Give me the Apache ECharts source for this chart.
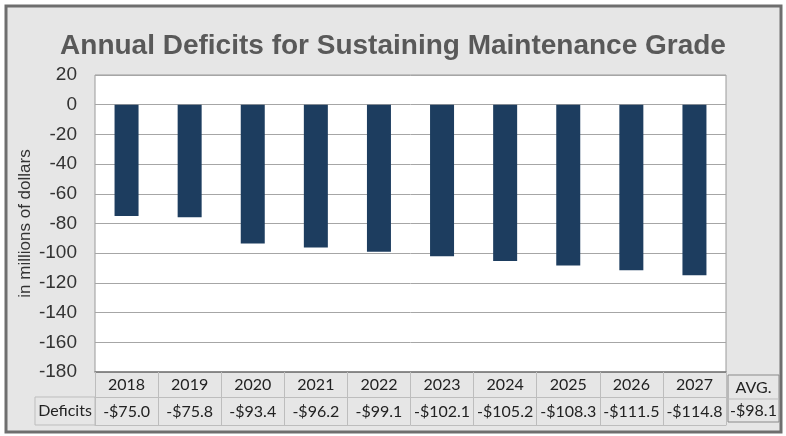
<!DOCTYPE html>
<html>
<head>
<meta charset="utf-8">
<script src="https://cdn.jsdelivr.net/npm/echarts@6/dist/echarts.min.js"></script>
<style>
html,body{margin:0;padding:0;background:#ffffff;}
#chart{width:786px;height:436px;}
</style>
</head>
<body>
<div id="chart"></div>
<script>
const titleText = 'Annual Deficits for Sustaining Maintenance Grade';
const years = ['2018','2019','2020','2021','2022','2023','2024','2025','2026','2027'];
const deficits = [-75.0,-75.8,-93.4,-96.2,-99.1,-102.1,-105.2,-108.3,-111.5,-114.8];
const avgLabel = 'AVG.';
const avgValue = -98.1;
const rowLabel = 'Deficits';
const yAxisTitle = 'in millions of dollars';

function money(v){ return (v < 0 ? '-$' : '$') + Math.abs(v).toFixed(1); }

const tableFont = 'Lato, "Open Sans", sans-serif';
const arial = '"Liberation Sans", Arial, sans-serif';
const chart = echarts.init(document.getElementById('chart'), null, {renderer:'canvas'});
chart.setOption({
  backgroundColor: '#ffffff',
  animation: false,
  title: {
    text: titleText, left: 'center', top: 27,
    textStyle: {fontFamily: arial, fontSize: 28, fontWeight: 'bold', color: '#595959'}
  },
  grid: {left: 95, right: 60, top: 75, bottom: 64, show: true, backgroundColor: '#ffffff', borderColor: '#9a9a9a', borderWidth: 1},
  xAxis: [
    {type: 'category', data: years, position: 'bottom',
     axisLine: {show: true, onZero: false, lineStyle: {color: '#7a7a7a', width: 1.5}},
     axisTick: {show: true, length: 53, lineStyle: {color: '#bdbdbd'}},
     axisLabel: {interval: 0, margin: 5, fontFamily: tableFont, fontSize: 16, color: '#222', lineHeight: 16}},
    {type: 'category', data: years, position: 'bottom', offset: 25,
     axisLine: {show: true, onZero: false, lineStyle: {color: '#bdbdbd'}},
     axisTick: {show: false},
     axisLabel: {interval: 0, margin: 7, fontFamily: tableFont, fontSize: 16, color: '#222', lineHeight: 16,
       formatter: function(v, i){ return money(deficits[i]); }}},
    {type: 'category', data: years, position: 'bottom', offset: 53,
     axisLine: {show: true, onZero: false, lineStyle: {color: '#bdbdbd'}},
     axisTick: {show: false}, axisLabel: {show: false}}
  ],
  yAxis: {
    type: 'value', min: -180, max: 20, interval: 20,
    name: yAxisTitle, nameLocation: 'middle', nameRotate: 90, nameGap: 61, nameMoveOverlap: false,
    nameTextStyle: {fontFamily: arial, fontSize: 17, color: '#333'},
    axisLine: {show: false}, axisTick: {show: false},
    axisLabel: {margin: 18, fontFamily: arial, fontSize: 19, color: '#333'},
    splitLine: {show: true, lineStyle: {color: '#a6a6a6', width: 1}}
  },
  series: [{
    type: 'bar', data: deficits, barWidth: 24, xAxisIndex: 0,
    itemStyle: {color: '#1d3d5f'}
  }],
  graphic: [
    {type: 'rect', z: -10, shape: {x: 6, y: 6, width: 775, height: 426}, style: {fill: '#e6e6e6', stroke: '#6e6e6e', lineWidth: 3}},
    {type: 'rect', shape: {x: 35, y: 397, width: 60, height: 28}, style: {fill: 'none', stroke: '#bdbdbd', lineWidth: 1}},
    {type: 'text', x: 65, y: 411, style: {text: rowLabel, font: '16px ' + tableFont, fill: '#222', align: 'center', verticalAlign: 'middle'}},
    {type: 'rect', shape: {x: 728, y: 375, width: 51, height: 47}, style: {fill: 'none', stroke: '#8a8a8a', lineWidth: 1}},
    {type: 'line', shape: {x1: 728, y1: 399, x2: 779, y2: 399}, style: {stroke: '#bdbdbd', lineWidth: 1}},
    {type: 'text', x: 753.5, y: 388, style: {text: avgLabel, font: '16px ' + tableFont, fill: '#222', align: 'center', verticalAlign: 'middle'}},
    {type: 'text', x: 753.5, y: 411, style: {text: money(avgValue), font: '16px ' + tableFont, fill: '#222', align: 'center', verticalAlign: 'middle'}}
  ]
});
</script>
</body>
</html>
